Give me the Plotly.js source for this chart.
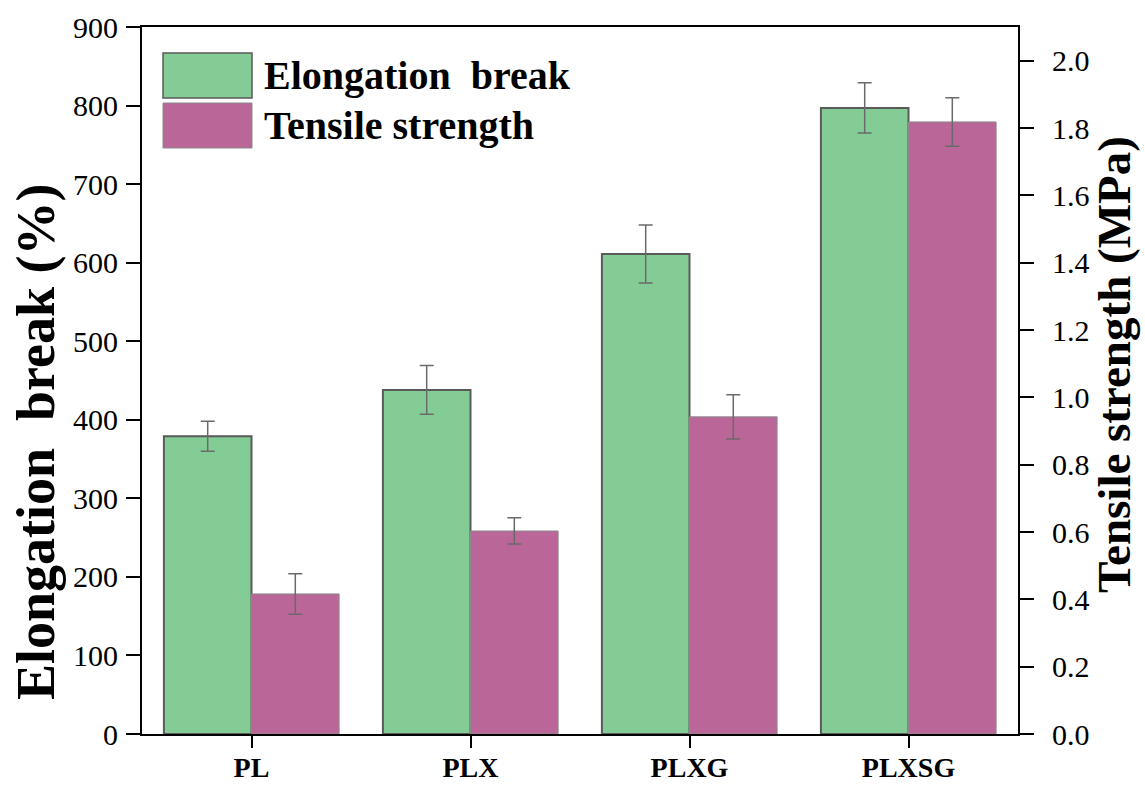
<!DOCTYPE html>
<html>
<head>
<meta charset="utf-8">
<script src="https://cdn.plot.ly/plotly-3.0.1.min.js"></script>
<style>html,body{margin:0;padding:0;background:#fff;}#chart{width:1145px;height:785px;}</style>
</head>
<body>
<div id="chart"></div>
<script>
var categories = ['PL', 'PLX', 'PLXG', 'PLXSG'];
var elongation = [379, 438, 611, 797];
var elongationErr = [19, 31, 37, 32];
var tensile = [0.416, 0.603, 0.942, 1.818];
var tensileErr = [0.06, 0.039, 0.066, 0.072];
var seriesNames = ['Elongation\u00A0\u00A0break', 'Tensile strength'];
var yTitleLeft = 'Elongation\u00A0\u00A0break (%)';
var yTitleRight = 'Tensile strength (MPa)';

var green = '#84CC96';
var magenta = '#BA6698';
var serif = '"Liberation Serif", "Times New Roman", serif';

var traces = [
  {
    type: 'bar', x: categories, y: elongation, name: seriesNames[0],
    width: 0.4, offset: -0.4,
    marker: {color: green, line: {color: '#5a5a5a', width: 2}},
    error_y: {type: 'data', array: elongationErr, visible: true, color: '#6a6a6a', thickness: 1.5, width: 7},
    yaxis: 'y'
  },
  {
    type: 'bar', x: categories, y: tensile, name: seriesNames[1],
    width: 0.4, offset: 0,
    marker: {color: magenta, line: {color: '#8a8a8a', width: 1}},
    error_y: {type: 'data', array: tensileErr, visible: true, color: '#6a6a6a', thickness: 1.5, width: 7},
    yaxis: 'y2'
  }
];

// pixel helpers for legend / title placement (plot area 142..1018 x 27..734)
function px(x) { return (x - 142) / 876; }
function py(y) { return (734 - y) / 707; }

var layout = {
  width: 1145, height: 785,
  margin: {l: 142, r: 127, t: 27, b: 51},
  paper_bgcolor: '#fff', plot_bgcolor: '#fff',
  showlegend: false,
  barmode: 'overlay',
  font: {family: serif, color: '#000'},
  xaxis: {
    type: 'category', range: [-0.5, 3.5],
    showline: true, linecolor: '#000', linewidth: 2, mirror: true,
    ticks: 'outside', ticklen: 12, tickwidth: 2, tickcolor: '#000',
    tickfont: {family: serif, size: 28, color: '#000', weight: 'bold'},
    ticklabelstandoff: -5,
    showgrid: false, zeroline: false, fixedrange: true
  },
  yaxis: {
    range: [0, 900], dtick: 100, tick0: 0,
    showline: true, linecolor: '#000', linewidth: 2,
    ticks: 'outside', ticklen: 14, tickwidth: 2, tickcolor: '#000',
    tickfont: {family: serif, size: 30, color: '#000'},
    ticklabelstandoff: 2,
    showgrid: false, zeroline: false
  },
  yaxis2: {
    overlaying: 'y', side: 'right', anchor: 'x',
    range: [0, 2.1], dtick: 0.2, tick0: 0, tickformat: '.1f',
    showline: true, linecolor: '#000', linewidth: 2,
    ticks: 'outside', ticklen: 14, tickwidth: 2, tickcolor: '#000',
    tickfont: {family: serif, size: 30, color: '#000'},
    ticklabelstandoff: 12,
    showgrid: false, zeroline: false
  },
  shapes: [
    {type: 'rect', xref: 'paper', yref: 'paper', x0: px(163), x1: px(252), y0: py(98), y1: py(53),
     fillcolor: green, line: {color: '#5a5a5a', width: 1.5}},
    {type: 'rect', xref: 'paper', yref: 'paper', x0: px(163), x1: px(252), y0: py(148), y1: py(103),
     fillcolor: magenta, line: {color: '#8a8a8a', width: 1}}
  ],
  annotations: [
    {xref: 'paper', yref: 'paper', x: px(262), y: py(76), xanchor: 'left', yanchor: 'middle', showarrow: false,
     text: seriesNames[0], font: {family: serif, size: 40, color: '#000', weight: 'bold'}},
    {xref: 'paper', yref: 'paper', x: px(262), y: py(126), xanchor: 'left', yanchor: 'middle', showarrow: false,
     text: seriesNames[1], font: {family: serif, size: 40, color: '#000', weight: 'bold'}},
    {xref: 'paper', yref: 'paper', x: px(36), y: py(442), xanchor: 'center', yanchor: 'middle', showarrow: false,
     textangle: -90, text: yTitleLeft, font: {family: serif, size: 54, color: '#000', weight: 'bold'}},
    {xref: 'paper', yref: 'paper', x: px(1114), y: py(365), xanchor: 'center', yanchor: 'middle', showarrow: false,
     textangle: -90, text: yTitleRight, font: {family: serif, size: 47, color: '#000', weight: 'bold'}}
  ]
};

Plotly.newPlot('chart', traces, layout, {displayModeBar: false, staticPlot: true});
</script>
</body>
</html>
